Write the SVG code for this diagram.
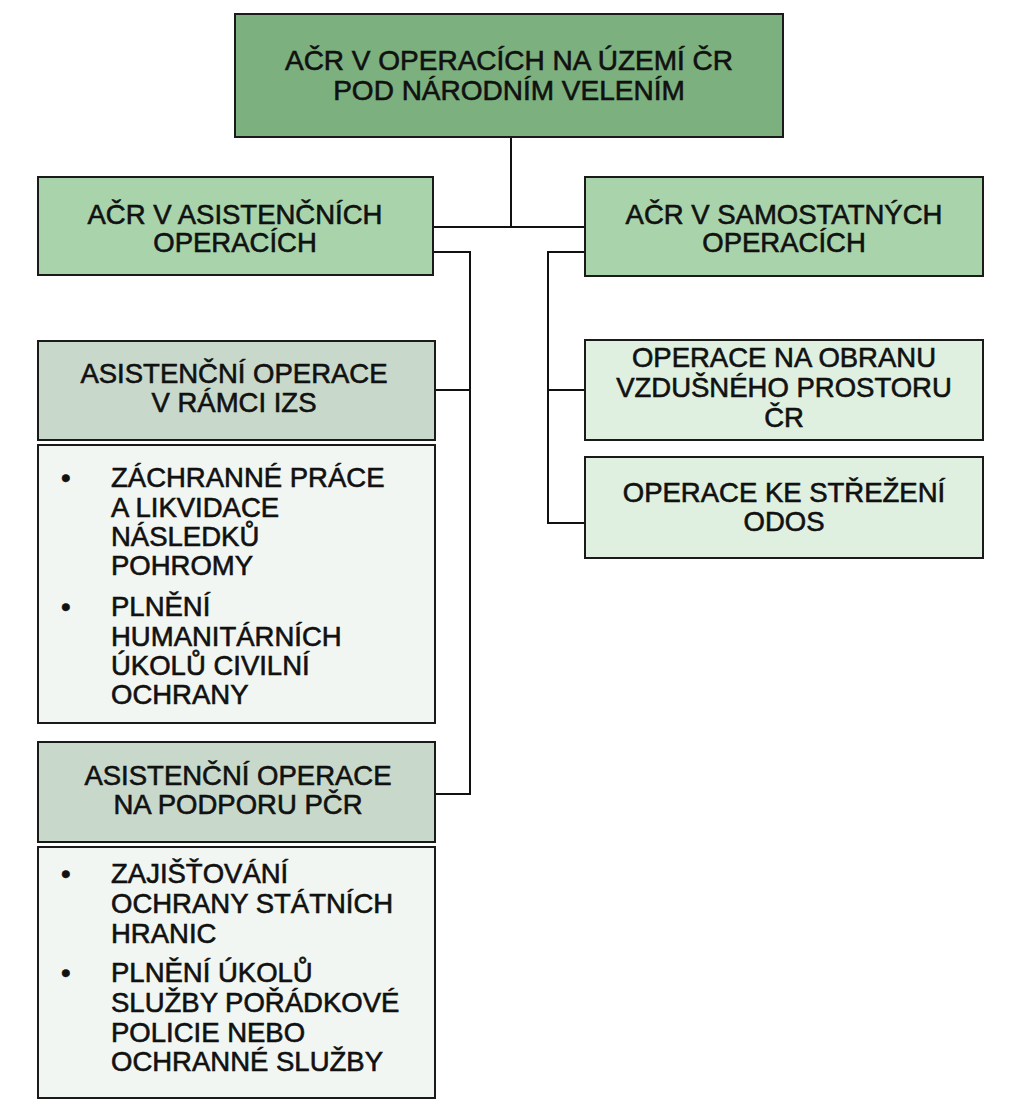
<svg xmlns="http://www.w3.org/2000/svg" width="1024" height="1110" viewBox="0 0 1024 1110">
<style>
.box{stroke:#1a1a1a;stroke-width:2}
.top{fill:#7cb07f}
.l2{fill:#a9d4ab}
.op{fill:#dff0e0}
.hd{fill:#c8d9cc}
.ls{fill:#f1f6f2}
text{font-family:"Liberation Sans",Arial,sans-serif;font-size:27.5px;fill:#111;stroke:#111;stroke-width:0.6}
.c{text-anchor:middle}
.conn{fill:none;stroke:#111;stroke-width:2}
</style>
<rect width="1024" height="1110" fill="#ffffff"/>
<g id="connectors">
<path class="conn" d="M511,137 V227 M433,227 H585"/>
<path class="conn" d="M433,252 H470 V794 H435 M470,390 H435"/>
<path class="conn" d="M585,252 H548 V523 H585 M548,390 H585"/>
</g>
<g id="n-top">
<rect class="box top" x="235" y="14" width="548" height="123"/>
<text class="c" x="509" y="70" style="font-size:28px">AČR V OPERACÍCH NA ÚZEMÍ ČR</text>
<text class="c" x="509" y="100" style="font-size:28px">POD NÁRODNÍM VELENÍM</text>
</g>
<g id="n-asist">
<rect class="box l2" x="38" y="177" width="395" height="98"/>
<text class="c" x="235" y="224">AČR V ASISTENČNÍCH</text>
<text class="c" x="235" y="252">OPERACÍCH</text>
</g>
<g id="n-samost">
<rect class="box l2" x="585" y="177" width="398" height="99"/>
<text class="c" x="784" y="224">AČR V SAMOSTATNÝCH</text>
<text class="c" x="784" y="252">OPERACÍCH</text>
</g>
<g id="n-izs">
<rect class="box hd" x="38" y="341" width="397" height="99"/>
<text class="c" x="234" y="383">ASISTENČNÍ OPERACE</text>
<text class="c" x="234" y="412">V RÁMCI IZS</text>
</g>
<g id="n-izs-list">
<rect class="box ls" x="38" y="445" width="397" height="278"/>
<text x="61" y="487">•</text>
<text x="111" y="487">ZÁCHRANNÉ PRÁCE</text>
<text x="111" y="517">A LIKVIDACE</text>
<text x="111" y="546">NÁSLEDKŮ</text>
<text x="111" y="575">POHROMY</text>
<text x="61" y="616">•</text>
<text x="111" y="616">PLNĚNÍ</text>
<text x="111" y="646">HUMANITÁRNÍCH</text>
<text x="111" y="675">ÚKOLŮ CIVILNÍ</text>
<text x="111" y="704">OCHRANY</text>
</g>
<g id="n-pcr">
<rect class="box hd" x="38" y="742" width="397" height="100"/>
<text class="c" x="238" y="785">ASISTENČNÍ OPERACE</text>
<text class="c" x="238" y="814">NA PODPORU PČR</text>
</g>
<g id="n-pcr-list">
<rect class="box ls" x="38" y="847" width="397" height="251"/>
<text x="61" y="883">•</text>
<text x="111" y="883">ZAJIŠŤOVÁNÍ</text>
<text x="111" y="913">OCHRANY STÁTNÍCH</text>
<text x="111" y="943">HRANIC</text>
<text x="61" y="982">•</text>
<text x="111" y="982">PLNĚNÍ ÚKOLŮ</text>
<text x="111" y="1012">SLUŽBY POŘÁDKOVÉ</text>
<text x="111" y="1042">POLICIE NEBO</text>
<text x="111" y="1071">OCHRANNÉ SLUŽBY</text>
</g>
<g id="n-obrana">
<rect class="box op" x="585" y="340" width="398" height="100"/>
<text class="c" x="784" y="367">OPERACE NA OBRANU</text>
<text class="c" x="784" y="397">VZDUŠNÉHO PROSTORU</text>
<text class="c" x="784" y="427">ČR</text>
</g>
<g id="n-odos">
<rect class="box op" x="585" y="457" width="398" height="101"/>
<text class="c" x="784" y="502">OPERACE KE STŘEŽENÍ</text>
<text class="c" x="784" y="531">ODOS</text>
</g>
</svg>
